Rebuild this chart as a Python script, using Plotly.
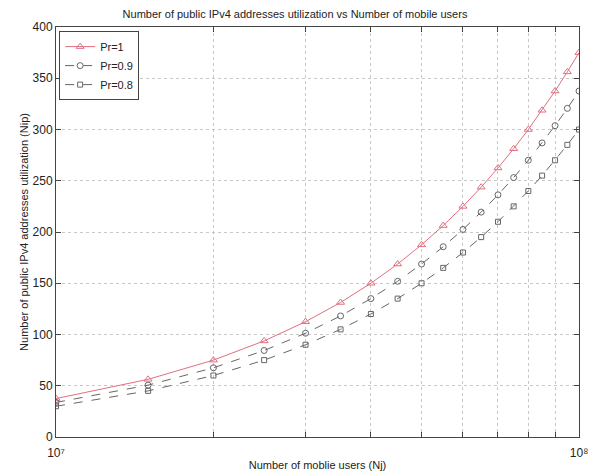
import plotly.graph_objects as go

users = [1.0e7, 1.5e7, 2.0e7, 2.5e7, 3.0e7, 3.5e7, 4.0e7, 4.5e7, 5.0e7, 5.5e7,
         6.0e7, 6.5e7, 7.0e7, 7.5e7, 8.0e7, 8.5e7, 9.0e7, 9.5e7, 1.0e8]
pr_1 = [37.5, 56.25, 75, 93.75, 112.5, 131.25, 150, 168.75, 187.5, 206.25,
        225, 243.75, 262.5, 281.25, 300, 318.75, 337.5, 356.25, 375]
pr_09 = [33.75, 50.6, 67.5, 84.4, 101.25, 118.1, 135, 151.9, 168.75, 185.6,
         202.5, 219.4, 236.25, 253.1, 270, 286.9, 303.75, 320.6, 337.5]
pr_08 = [30, 45, 60, 75, 90, 105, 120, 135, 150, 165,
         180, 195, 210, 225, 240, 255, 270, 285, 300]
x_major = [1e7, 1e8]
x_major_text = ["10⁷", "10⁸"]
x_minor = [2e7, 3e7, 4e7, 5e7, 6e7, 7e7, 8e7, 9e7]
y_ticks = [0, 50, 100, 150, 200, 250, 300, 350, 400]

fig = go.Figure()
fig.add_trace(go.Scatter(x=users, y=pr_1, name="Pr=1", mode="lines+markers",
                         line=dict(color="#e07080", width=1),
                         marker=dict(symbol="triangle-up-open", size=7, color="#e07080",
                                     line=dict(width=1))))
fig.add_trace(go.Scatter(x=users, y=pr_09, name="Pr=0.9", mode="lines+markers",
                         line=dict(color="#666666", width=1, dash="dash"),
                         marker=dict(symbol="circle-open", size=6, color="#666666",
                                     line=dict(width=1))))
fig.add_trace(go.Scatter(x=users, y=pr_08, name="Pr=0.8", mode="lines+markers",
                         line=dict(color="#666666", width=1, dash="dash"),
                         marker=dict(symbol="square-open", size=5, color="#666666",
                                     line=dict(width=1))))

font = "Liberation Sans, Arial, sans-serif"
fig.update_layout(
    width=590, height=476,
    margin=dict(l=56, r=11, t=27, b=39),
    paper_bgcolor="white", plot_bgcolor="white",
    font=dict(family=font, size=11, color="#222"),
    title=dict(text="Number of public IPv4 addresses utilization vs Number of mobile users",
               x=0.5, xanchor="center", y=0.971, yanchor="middle", font=dict(size=11)),
    showlegend=True,
    legend=dict(x=0.006, y=0.99, xanchor="left", yanchor="top",
                bordercolor="#444", borderwidth=1, bgcolor="white",
                font=dict(size=11), tracegroupgap=0, itemwidth=30),
)
fig.update_xaxes(
    type="log", range=[7, 8], automargin=False,
    tickvals=x_major, ticktext=x_major_text,
    showline=True, linecolor="#444", linewidth=1, mirror="ticks",
    ticks="inside", ticklen=5, tickcolor="#444",
    showgrid=False, zeroline=False,
    minor=dict(tickvals=x_minor, showgrid=True, gridcolor="#c8c8c8", griddash="dot",
               gridwidth=1, ticks="inside", ticklen=5, tickcolor="#444"),
    title=dict(text="Number of moblie users (Nj)", standoff=1, font=dict(size=11)),
    tickfont=dict(size=12),
    ticklabelstandoff=5,
    ticklabeloverflow="allow",
)
fig.update_yaxes(
    range=[0, 400], tickvals=y_ticks, automargin=False,
    showline=True, linecolor="#444", linewidth=1, mirror="ticks",
    ticks="inside", ticklen=5, tickcolor="#444",
    showgrid=True, gridcolor="#c8c8c8", griddash="dot", gridwidth=1,
    zeroline=False,
    title=dict(text="Number of public IPv4 addresses utilization (Nip)", standoff=1, font=dict(size=11)),
    tickfont=dict(size=12),
)
fig.write_html("out.html",
               config={"displayModeBar": False},
               post_script="document.body.style.margin='0';document.body.style.overflow='hidden';")
